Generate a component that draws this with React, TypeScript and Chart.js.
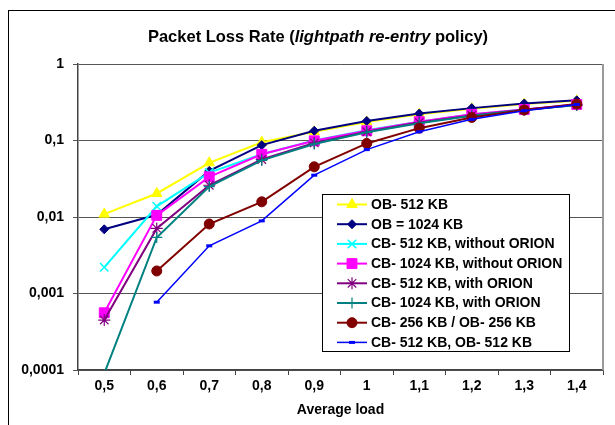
import React, { useEffect, useRef } from 'react';
import { Chart, registerables } from 'chart.js';
import { drawPoint } from 'chart.js/helpers';

Chart.register(...registerables);

const FONT = '"Liberation Sans", Arial, sans-serif';

const loads = ['0,5', '0,6', '0,7', '0,8', '0,9', '1', '1,1', '1,2', '1,3', '1,4'];
const yTickValues = [0.0001, 0.001, 0.01, 0.1, 1];
const yTickLabels = ['0,0001', '0,001', '0,01', '0,1', '1'];

const seriesNames = [
  'OB- 512 KB',
  'OB = 1024 KB',
  'CB- 512 KB, without ORION',
  'CB- 1024 KB, without ORION',
  'CB- 512 KB, with ORION',
  'CB- 1024 KB, with ORION',
  'CB- 256 KB / OB- 256 KB',
  'CB- 512 KB, OB- 512 KB',
];

const ob512 = [0.0109, 0.0203, 0.051, 0.095, 0.13, 0.175, 0.22, 0.26, 0.3, 0.33];
const ob1024 = [0.0069, 0.0107, 0.04, 0.087, 0.134, 0.18, 0.225, 0.265, 0.305, 0.335];
const cb512NoOrion = [0.0022, 0.0138, 0.038, 0.066, 0.1, 0.136, 0.176, 0.218, 0.255, 0.292];
const cb1024NoOrion = [0.00056, 0.0105, 0.0335, 0.066, 0.099, 0.134, 0.176, 0.22, 0.255, 0.296];
const cb512Orion = [0.00045, 0.0071, 0.026, 0.0565, 0.093, 0.13, 0.172, 0.212, 0.252, 0.292];
const cb1024Orion = [0.00009, 0.0054, 0.025, 0.055, 0.09, 0.128, 0.168, 0.21, 0.25, 0.29];
const cb256ob256 = [null, 0.00197, 0.0081, 0.0158, 0.0453, 0.0916, 0.145, 0.2, 0.25, 0.3];
const cb512ob512 = [null, 0.00077, 0.0042, 0.0089, 0.0352, 0.076, 0.13, 0.189, 0.245, 0.296];

const seriesData = [ob512, ob1024, cb512NoOrion, cb1024NoOrion, cb512Orion, cb1024Orion, cb256ob256, cb512ob512];

const styles = [
  { color: '#FFFF00', pointStyle: 'triangle', radius: 6, pbw: 1, lw: 2 },
  { color: '#000080', pointStyle: 'rectRot', radius: 4.5, pbw: 1, lw: 2 },
  { color: '#00FFFF', pointStyle: 'crossRot', radius: 6, pbw: 1.5, lw: 2 },
  { color: '#FF00FF', pointStyle: 'rect', radius: 7, pbw: 1, lw: 2 },
  { color: '#800080', pointStyle: 'star', radius: 6, pbw: 1.2, lw: 2 },
  { color: '#008080', pointStyle: 'cross', radius: 5.5, pbw: 1.2, lw: 2 },
  { color: '#800000', pointStyle: 'circle', radius: 5, pbw: 1, lw: 2 },
  { color: '#0000FF', pointStyle: 'line', radius: 3, pbw: 3, lw: 1.5 },
];

const decorPlugin = {
  id: 'decor',
  beforeDraw(chart: any) {
    const ctx = chart.ctx;
    ctx.save();
    ctx.fillStyle = '#fff';
    ctx.fillRect(0, 0, chart.width, chart.height);
    ctx.restore();
  },
  afterDraw(chart: any) {
    const ctx = chart.ctx;
    const area = chart.chartArea;
    ctx.save();
    // outer frame
    ctx.strokeStyle = '#000';
    ctx.lineWidth = 1;
    ctx.strokeRect(8.5, 10.5, 800, 600);
    // right plot border
    ctx.strokeStyle = '#9a9a9a';
    ctx.lineWidth = 2;
    ctx.beginPath();
    ctx.moveTo(area.right, area.top);
    ctx.lineTo(area.right, area.bottom);
    ctx.stroke();

    // title with italic part
    const parts = [
      { t: 'Packet Loss Rate (', f: `bold 16.5px ${FONT}` },
      { t: 'lightpath re-entry', f: `italic bold 16.5px ${FONT}` },
      { t: ' policy)', f: `bold 16.5px ${FONT}` },
    ];
    let total = 0;
    parts.forEach((p) => {
      ctx.font = p.f;
      total += ctx.measureText(p.t).width;
    });
    let x = 318 - total / 2;
    ctx.fillStyle = '#000';
    ctx.textBaseline = 'middle';
    ctx.textAlign = 'left';
    parts.forEach((p) => {
      ctx.font = p.f;
      ctx.fillText(p.t, x, 37);
      x += ctx.measureText(p.t).width;
    });

    // legend
    const lx = 322, ly = 194, lw = 247, lh = 157;
    ctx.fillStyle = '#fff';
    ctx.fillRect(lx, ly, lw, lh);
    ctx.strokeStyle = '#000';
    ctx.lineWidth = 1;
    ctx.strokeRect(lx + 0.5, ly + 0.5, lw, lh);
    ctx.font = `bold 14px ${FONT}`;
    seriesNames.forEach((name, i) => {
      const s = styles[i];
      const y = 204.5 + i * 19.7;
      ctx.strokeStyle = s.color;
      ctx.lineWidth = s.lw;
      ctx.beginPath();
      ctx.moveTo(337, y);
      ctx.lineTo(367, y);
      ctx.stroke();
      ctx.fillStyle = s.color;
      ctx.strokeStyle = s.color;
      ctx.lineWidth = s.pbw;
      drawPoint(ctx, { pointStyle: s.pointStyle, radius: s.radius, rotation: 0, borderWidth: s.pbw }, 352, y);
      ctx.fillStyle = '#000';
      ctx.textBaseline = 'middle';
      ctx.fillText(name, 371, y + 0.5);
    });
    ctx.restore();
  },
};

export default function App() {
  const ref = useRef<HTMLCanvasElement>(null);
  useEffect(() => {
    if (!ref.current) return;
    Chart.defaults.font.family = FONT;
    const datasets = seriesData.map((d, i) => {
      const s = styles[i];
      return {
        label: seriesNames[i],
        data: d,
        borderColor: s.color,
        backgroundColor: s.color,
        borderWidth: s.lw,
        pointStyle: s.pointStyle,
        pointRadius: d.map((v) => (v !== null && v < yTickValues[0] ? 0 : s.radius)),
        pointBorderWidth: s.pbw,
        pointBackgroundColor: s.color,
        pointBorderColor: s.color,
        tension: 0,
        spanGaps: false,
        clip: 0,
        order: 10 - i,
      };
    });
    const chart = new Chart(ref.current, {
      type: 'line',
      data: { labels: loads, datasets: datasets as any },
      plugins: [decorPlugin],
      options: {
        responsive: false,
        animation: false,
        events: [],
        layout: { padding: { top: 64, right: 12, left: 0, bottom: 0 } },
        plugins: {
          legend: { display: false },
          title: { display: false },
          tooltip: { enabled: false },
        },
        scales: {
          x: {
            type: 'category',
            offset: true,
            grid: { offset: true, drawOnChartArea: false, drawTicks: true, tickLength: 5, color: '#444', lineWidth: 1 },
            border: { color: '#444', width: 1.5 },
            ticks: { color: '#000', font: { size: 14, weight: 'bold' }, padding: 3, maxRotation: 0, autoSkip: false },
            title: {
              display: true,
              text: 'Average load',
              color: '#000',
              font: { size: 14, weight: 'bold' },
              padding: { top: 4, bottom: 6 },
            },
            afterFit: (s: any) => {
              s.height = 55;
            },
          },
          y: {
            type: 'logarithmic',
            min: 0.0001,
            max: 1,
            afterBuildTicks: (s: any) => {
              s.ticks = yTickValues.map((v) => ({ value: v, major: true }));
            },
            grid: { color: '#555', lineWidth: 1, tickLength: 5 },
            border: { color: '#444', width: 1.5 },
            ticks: {
              color: '#000',
              font: { size: 14, weight: 'bold' },
              padding: 9,
              autoSkip: false,
              callback: (v: any) => {
                const idx = yTickValues.indexOf(Number(v));
                return idx >= 0 ? yTickLabels[idx] : '';
              },
            },
            afterFit: (s: any) => {
              s.width = 78;
            },
          },
        },
      } as any,
    });
    return () => chart.destroy();
  }, []);
  return (
    <div style={{ position: 'absolute', left: 0, top: 0, width: 615, height: 425, background: '#fff' }}>
      <canvas ref={ref} width={615} height={425} style={{ display: 'block' }} />
    </div>
  );
}
